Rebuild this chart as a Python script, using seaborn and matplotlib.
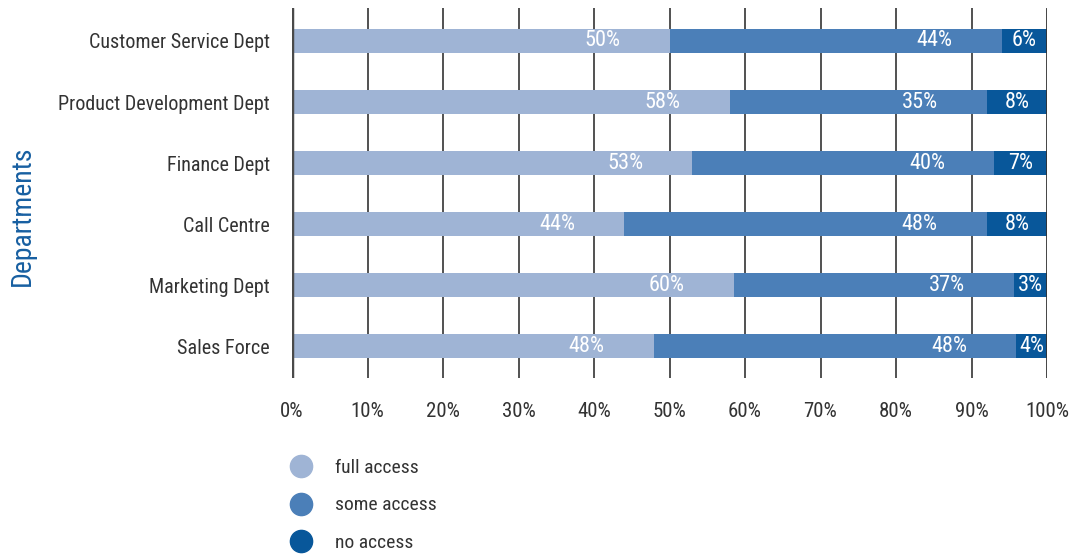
import matplotlib
matplotlib.use("Agg")
import matplotlib.pyplot as plt
from matplotlib.lines import Line2D
import seaborn as sns
import pandas as pd

departments = ["Customer Service Dept", "Product Development Dept", "Finance Dept",
               "Call Centre", "Marketing Dept", "Sales Force"]
full_access = [50, 58, 53, 44, 58.5, 47.9]
some_access = [44, 34, 40, 48, 37.1, 48.0]
no_access = [6, 8, 7, 8, 4.4, 4.1]
full_labels = ["50%", "58%", "53%", "44%", "60%", "48%"]
some_labels = ["44%", "35%", "40%", "48%", "37%", "48%"]
no_labels = ["6%", "8%", "7%", "8%", "3%", "4%"]
series_names = ["full access", "some access", "no access"]
colors = ["#9fb4d5", "#4b7fb8", "#08579a"]

sns.set_style("white")
plt.rcParams['font.family'] = ['Roboto Condensed', 'DejaVu Sans']

df = pd.DataFrame({"dept": departments, "full": full_access,
                   "some": some_access, "none": no_access})
df["c1"] = df["full"]
df["c2"] = df["full"] + df["some"]
df["c3"] = df["c2"] + df["none"]

fig = plt.figure(figsize=(10.81, 5.56), dpi=100)
ax = fig.add_axes([292/1081, 1-378/556, 755/1081, 370/556])

# stacked bars drawn as cumulative layers
for col, c in zip(["c3", "c2", "c1"], colors[::-1]):
    sns.barplot(data=df, x=col, y="dept", order=departments, color=c,
                orient="h", width=0.39, saturation=1, linewidth=0, ax=ax, zorder=2)

# value labels
for i in range(len(departments)):
    ax.text(df["c1"][i] - 6.5, i, full_labels[i], color="white", fontsize=16,
            ha="right", va="center", zorder=3)
    ax.text(df["c2"][i] - 6.5, i, some_labels[i], color="white", fontsize=16,
            ha="right", va="center", zorder=3)
    ax.text((df["c2"][i] + df["c3"][i]) / 2, i, no_labels[i], color="white",
            fontsize=16, ha="center", va="center", zorder=3)

ax.set_xlim(0, 100)
ax.set_ylim(5.52, -0.54)
ax.set_xticks(range(0, 101, 10))
ax.set_xticklabels([f"{t}%" for t in range(0, 101, 10)])
for t in range(10, 100, 10):
    ax.axvline(t, color="#333333", lw=1.2, zorder=1)
ax.axvline(0, color="#4a4a4a", lw=2.5, zorder=4)
ax.axvline(100, color="#333333", lw=2, zorder=4)
for s in ax.spines.values():
    s.set_visible(False)
ax.tick_params(axis="both", length=0, labelsize=15, labelcolor="#333333")
ax.tick_params(axis="y", pad=16, labelsize=14.5)
ax.tick_params(axis="x", pad=17)
ax.set_xlabel("")
ax.set_ylabel("")
fig.text(22/1081, 1-216/556, "Departments", rotation=90, color="#175fa1",
         fontsize=20, ha="center", va="center")

handles = [Line2D([0], [0], marker="o", linestyle="", markersize=16,
                  markerfacecolor=c, markeredgecolor=c) for c in colors]
fig.legend(handles, series_names, loc="upper left",
           bbox_to_anchor=(286/1081, 1-459/556), frameon=False, fontsize=14,
           labelcolor="#333333", labelspacing=1.0, handletextpad=1.0,
           handlelength=1.5, borderaxespad=0, borderpad=0)

fig.savefig("out.png", dpi=100)
